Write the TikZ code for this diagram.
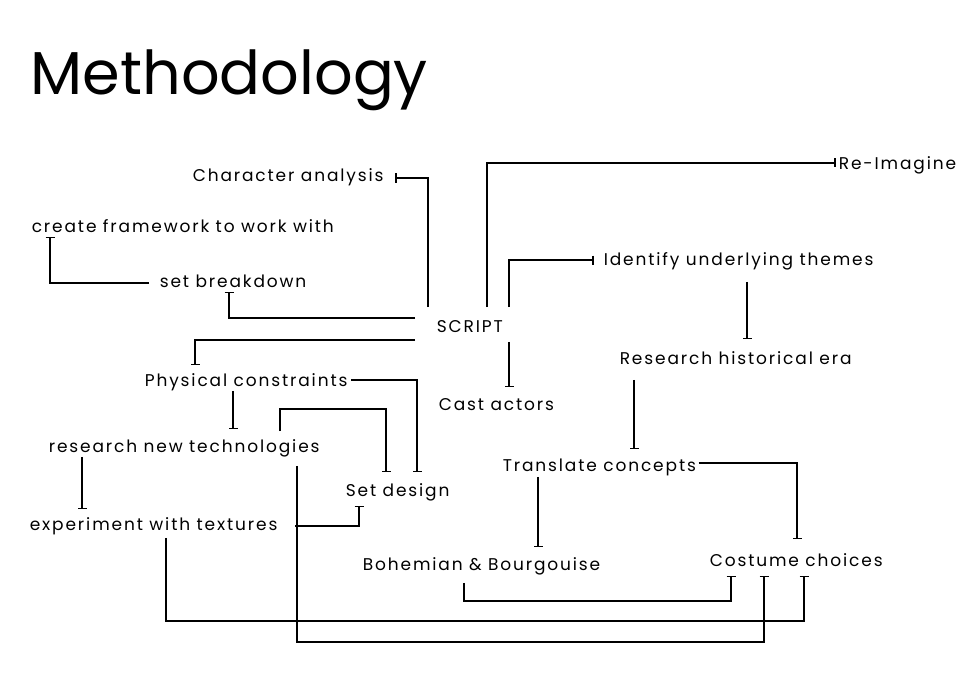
\documentclass[tikz,border=0pt]{standalone}
\usepackage{fontspec}
\setmainfont{Poppins}[LetterSpace=11]
\newfontfamily\titlefont{Poppins}
\usetikzlibrary{arrows.meta}

\begin{document}
\begin{tikzpicture}[x=1pt, y=-1pt, -{Bar[width=9pt]}, line width=1.6pt,
  item/.style={anchor=base west, inner sep=0pt, text height=12pt, text depth=4pt, font=\fontsize{17}{20}\selectfont}]

\useasboundingbox (0,0) rectangle (960,679);

\node[anchor=base west, inner sep=0pt, font=\titlefont\fontsize{60.5}{70}\selectfont](title) at (30,95) {Methodology};

\node[item](charac) at (192,182) {Character analysis};
\node[item](frame) at (31,232) {create framework to work with};
\node[item](breakd) at (159,287) {set breakdown};
\node[item](script) at (436,332) {SCRIPT};
\node[item](reimag) at (838,170) {Re-Imagine};
\node[item](themes) at (603,265) {Identify underlying themes};
\node[item](research) at (619,364) {Research historical era};
\node[item](phys) at (144,386) {Physical constraints};
\node[item](cast) at (438,410) {Cast actors};
\node[item](tech) at (48,452) {research new technologies};
\node[item](setdes) at (345,496) {Set design};
\node[item](transl) at (502,471) {Translate concepts};
\node[item](textur) at (29,530) {experiment with textures};
\node[item](bohem) at (362,570) {Bohemian \& Bourgouise};
\node[item](costum) at (709,566) {Costume choices};

% from the script
\draw ([xshift=-8pt,yshift=12pt]script.north west) |- ([xshift=11pt]charac.east);
\draw ([xshift=-21pt,yshift=10pt]script.west) -| ([xshift=70pt]breakd.south west);
\draw ([xshift=51pt,yshift=12pt]script.north west) |- ([xshift=-2pt,yshift=3pt]reimag.west);
\draw ([xshift=73pt,yshift=12pt]script.north west) |- ([xshift=-9pt,yshift=1pt]themes.west);
\draw ([xshift=-21pt,yshift=-12pt]script.west) -| ([xshift=51pt,yshift=8pt]phys.north west);
\draw ([xshift=73pt,yshift=-5pt]script.south west) -- ([xshift=71pt,yshift=10pt]cast.north west);

\draw ([xshift=-10pt]breakd.west) -| ([xshift=19pt]frame.south west);

% set design
\draw ([xshift=3pt,yshift=2pt]phys.east) -| ([xshift=72pt,yshift=11pt]setdes.north west);
\draw ([xshift=89pt]phys.south west) -- ([xshift=185pt,yshift=10pt]tech.north west);
\draw ([xshift=232pt,yshift=8pt]tech.north west) -- ++(0,-22) -| ([xshift=41pt,yshift=11pt]setdes.north west);
\draw ([xshift=34pt]tech.south west) -- ([xshift=53pt,yshift=8pt]textur.north west);
\draw ([xshift=17pt]textur.east) -| ([xshift=14pt,yshift=-5pt]setdes.south west);

% costumes
\draw ([xshift=144pt,yshift=-12pt]themes.south west) -- ([xshift=128pt,yshift=12pt]research.north west);
\draw ([xshift=15pt,yshift=-11pt]research.south west) -- ([xshift=132pt,yshift=9pt]transl.north west);
\draw ([xshift=36pt,yshift=-1pt]transl.south west) -- ([xshift=176pt,yshift=10pt]bohem.north west);
\draw ([xshift=2pt,yshift=4pt]transl.east) -| ([xshift=88pt,yshift=14pt]costum.north west);
\draw ([xshift=102pt,yshift=-8pt]bohem.south west) -- ++(0,18) -| ([xshift=22pt,yshift=-5pt]costum.south west);
\draw ([xshift=137pt,yshift=-3pt]textur.south west) -- ++(0,83) -| ([xshift=95pt,yshift=-5pt]costum.south west);
\draw ([xshift=249pt,yshift=-9pt]tech.south west) -- ++(0,176) -| ([xshift=55pt,yshift=-5pt]costum.south west);

\end{tikzpicture}
\end{document}
